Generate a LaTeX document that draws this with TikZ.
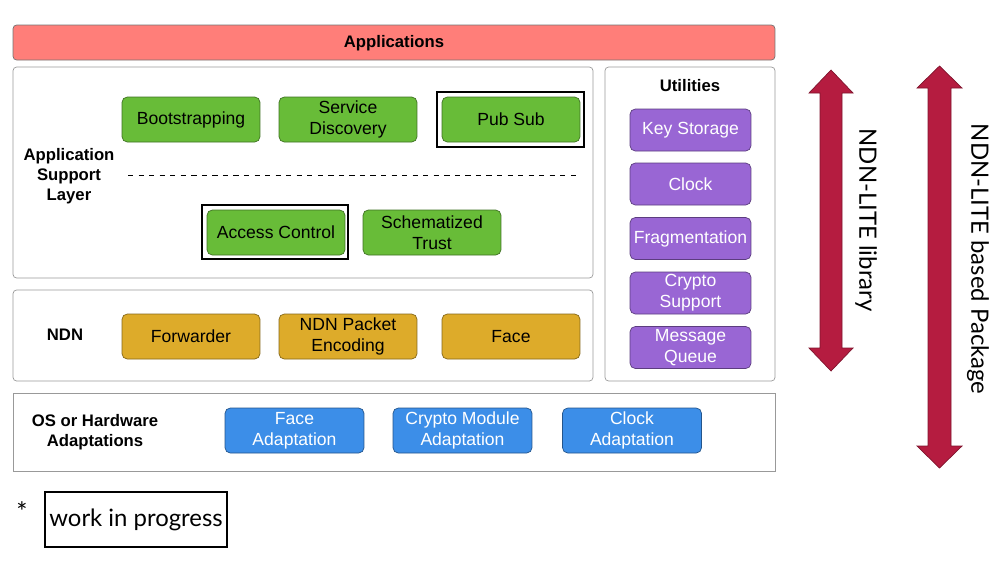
\documentclass[tikz,border=0pt]{standalone}
\usepackage{fontspec}
\setmainfont{Liberation Sans}
\newfontfamily\notefont{Lato}
\definecolor{appred}{HTML}{FF7E79}
\definecolor{aslgreen}{HTML}{68BC38}
\definecolor{ndngold}{HTML}{DDAB2A}
\definecolor{utilpurple}{HTML}{9966D4}
\definecolor{osblue}{HTML}{3C8EE8}
\definecolor{arrowred}{HTML}{B51C40}
\begin{document}
\begin{tikzpicture}[x=0.02cm,y=-0.02cm,
    layer/.style={draw=black!40,rounded corners=2pt,inner sep=0pt},
    block/.style={rounded corners=3pt,inner sep=0pt,align=center,
        minimum width=2.76cm,minimum height=0.9cm,font=\fontsize{10}{12}\selectfont},
    green/.style={block,fill=aslgreen,draw=aslgreen!60!black},
    gold/.style={block,fill=ndngold,draw=ndngold!60!black},
    purple/.style={block,fill=utilpurple,draw=utilpurple!60!black,text=white,
        minimum width=2.42cm,minimum height=0.84cm},
    blue/.style={block,fill=osblue,draw=osblue!60!black,text=white,minimum width=2.78cm},
    wipframe/.style={draw=black,line width=1.5pt,inner sep=0pt},
    title/.style={font=\bfseries\fontsize{9.5}{11.5}\selectfont,align=center},
    bigarrow/.style={fill=arrowred,draw=arrowred!70!black,line width=0.4pt},
    sidetext/.style={font=\notefont\fontsize{13.6}{16}\selectfont,rotate=-90}]
\useasboundingbox (0,0) rectangle (1000,586);

% layers
\node (apps) [layer,fill=appred,draw=black!55,minimum width=15.24cm,minimum height=0.7cm] at (394,42.5) {};
\node (asl) [layer,minimum width=11.6cm,minimum height=4.22cm] at (303,172.5) {};
\node (util) [layer,minimum width=3.4cm,minimum height=6.28cm] at (690,224) {};
\node (ndn) [layer,minimum width=11.6cm,minimum height=1.82cm] at (303,335.5) {};
\node (os) [layer,rounded corners=0pt,minimum width=15.24cm,minimum height=1.56cm] at (394,432) {};

\node (appstitle) [title] at (394,43) {Applications};
\node (asltitle) [title] at (69,176) {Application\\Support\\Layer};
\node (ndntitle) [title] at (65,335) {NDN};
\node (ostitle) [title] at (95,432) {OS or Hardware\\Adaptations};
\node (utiltitle) [title] at (690,86) {Utilities};

% application support layer
\node (boot) [green] at (191,119.5) {Bootstrapping};
\node (disc) [green] at (348,119.5) {Service\\Discovery};
\node (pubsub) [green] at (511,119.5) {Pub Sub};
\node (pubsubwip) [wipframe,minimum width=2.94cm,minimum height=1.1cm] at (510.5,119.5) {};
\coordinate (sepL) at (128,175);
\coordinate (sepR) at (580,175);
\draw[dashed] (sepL) -- (sepR);
\node (access) [green] at (276,232.5) {Access Control};
\node (accesswip) [wipframe,minimum width=2.92cm,minimum height=1.08cm] at (275,232) {};
\node (trust) [green] at (432,232.5) {Schematized\\Trust};

% ndn
\node (fwd) [gold] at (191,336.5) {Forwarder};
\node (enc) [gold] at (348,336.5) {NDN Packet\\Encoding};
\node (face) [gold] at (511,336.5) {Face};

% utilities
\node (keys) [purple] at (690.5,130) {Key Storage};
\node (clock) [purple] at (690.5,184) {Clock};
\node (frag) [purple] at (690.5,238.5) {Fragmentation};
\node (crypto) [purple] at (690.5,293) {Crypto\\Support};
\node (queue) [purple] at (690.5,347.5) {Message\\Queue};

% adaptations
\node (faceadp) [blue] at (294.5,430.5) {Face\\Adaptation};
\node (cryptoadp) [blue] at (462.5,430.5) {Crypto Module\\Adaptation};
\node (clockadp) [blue] at (632,430.5) {Clock\\Adaptation};

% scope arrows
\draw[bigarrow] (831,70) -- (853,93) -- (842,93) -- (842,348) -- (853,348) -- (831,371)
    -- (809,348) -- (820,348) -- (820,93) -- (809,93) -- cycle;
\node (libtext) [sidetext] at (866,220) {NDN-LITE library};
\draw[bigarrow] (939.5,66) -- (962,88) -- (951,88) -- (951,446) -- (962,446) -- (939.5,468)
    -- (917,446) -- (928,446) -- (928,88) -- (917,88) -- cycle;
\node (pkgtext) [sidetext] at (978,259) {NDN-LITE based Package};

% legend
\node (star) [font=\notefont\fontsize{15}{16}\selectfont] at (22,512) {*};
\node (wip) [wipframe,minimum width=3.64cm,minimum height=1.1cm,
    font=\notefont\fontsize{13.6}{16}\selectfont] at (136,519.5) {\raisebox{-1.5pt}{work in progress}};
\end{tikzpicture}
\end{document}
